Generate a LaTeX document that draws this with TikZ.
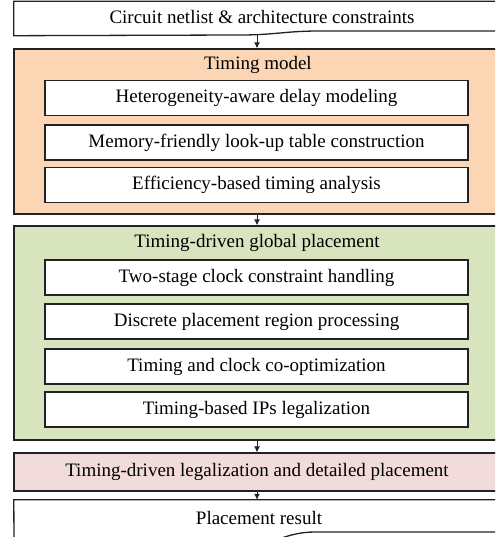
\documentclass[tikz,border=0pt]{standalone}
\usepackage{fontspec}
\setmainfont{Liberation Serif}
\usetikzlibrary{
    arrows.meta,
    positioning,
    calc
}
\definecolor{modelfill}{HTML}{FCD5B5}
\definecolor{globalfill}{HTML}{D7E4BD}
\definecolor{legalfill}{HTML}{F2DCDB}
\definecolor{edge}{HTML}{222222}
\tikzset{
    % --- Outer stage frame (coloured) ---
    stage/.style = {
        rectangle, draw=edge, line width=1.3pt,
        minimum width=486pt, inner sep=0pt
    },
    % --- Inner step box ---
    stepbox/.style = {
        rectangle, draw=edge, line width=1.3pt, fill=white,
        minimum width=423pt, minimum height=35pt,
        font=\fontsize{19}{22}\selectfont
    },
    % --- Stage title ---
    title/.style = {
        font=\fontsize{19}{22}\selectfont
    },
    % --- Document-shaped input/output (text only, shape drawn by hand) ---
    doc/.style = {
        rectangle, minimum width=486pt, inner sep=0pt,
        font=\fontsize{19}{22}\selectfont
    },
    doc line/.style = {
        draw=edge, line width=1.3pt, fill=white
    },
    % --- Flow arrow between stages ---
    flow/.style = {
        -{Latex[length=6pt,width=6pt]}, line width=1pt, edge
    }
}

\begin{document}
\begin{tikzpicture}[x=1pt, y=-1pt]
\useasboundingbox (0,0) rectangle (495,537);
\clip (0,0) rectangle (495,537);

% ---------------------------------------------------------
% Input document
% ---------------------------------------------------------
\node[doc, minimum height=33.5pt] (netlist) at (257,18.25) {};
\draw[doc line] (netlist.north west) -- ($(netlist.south west)+(0,0.5)$)
    -- (240,35) .. controls (275,35) and (285,31) .. (320,31)
    -- (500,31) -- (netlist.north east) -- cycle;
\node[title] at (262,17) {Circuit netlist \& architecture constraints};

% ---------------------------------------------------------
% Timing model
% ---------------------------------------------------------
\node[stage, fill=modelfill, minimum height=165pt] (model) at (257,131.5) {};
\node[title] (modeltitle) at (258,65) {Timing model};
\node[stepbox] (delay) at (256.5,98) {Heterogeneity-aware delay modeling};
\node[stepbox] (lut) at (256.5,142.5) {Memory-friendly look-up table construction};
\node[stepbox] (sta) at (256.5,185) {Efficiency-based timing analysis};

% ---------------------------------------------------------
% Timing-driven global placement
% ---------------------------------------------------------
\node[stage, fill=globalfill, minimum height=214pt] (global) at (257,333) {};
\node[title] (globaltitle) at (257,243) {Timing-driven global placement};
\node[stepbox] (clock) at (256.5,277.5) {Two-stage clock constraint handling};
\node[stepbox] (region) at (256.5,321.5) {Discrete placement region processing};
\node[stepbox] (coopt) at (256.5,366.5) {Timing and clock co-optimization};
\node[stepbox] (iplegal) at (256.5,409.5) {Timing-based IPs legalization};

% ---------------------------------------------------------
% Legalization and detailed placement
% ---------------------------------------------------------
\node[stage, fill=legalfill, minimum height=38pt, title] (legal) at (257,472)
    {Timing-driven legalization and detailed placement};

% ---------------------------------------------------------
% Output document
% ---------------------------------------------------------
\node[doc, minimum height=36pt] (result) at (257,518) {};
\draw[doc line] (result.north west) -- (14,545) -- (245,545)
    .. controls (275,545) and (285,532) .. (315,532)
    -- (500,532) -- (result.north east) -- cycle;
\node[title] at (259,518) {Placement result};

% ---------------------------------------------------------
% Flow
% ---------------------------------------------------------
\draw[flow] (netlist.south) -- (model.north);
\draw[flow] (model.south) -- (global.north);
\draw[flow] (global.south) -- (legal.north);
\draw[flow] (legal.south) -- (result.north);

\end{tikzpicture}
\end{document}
